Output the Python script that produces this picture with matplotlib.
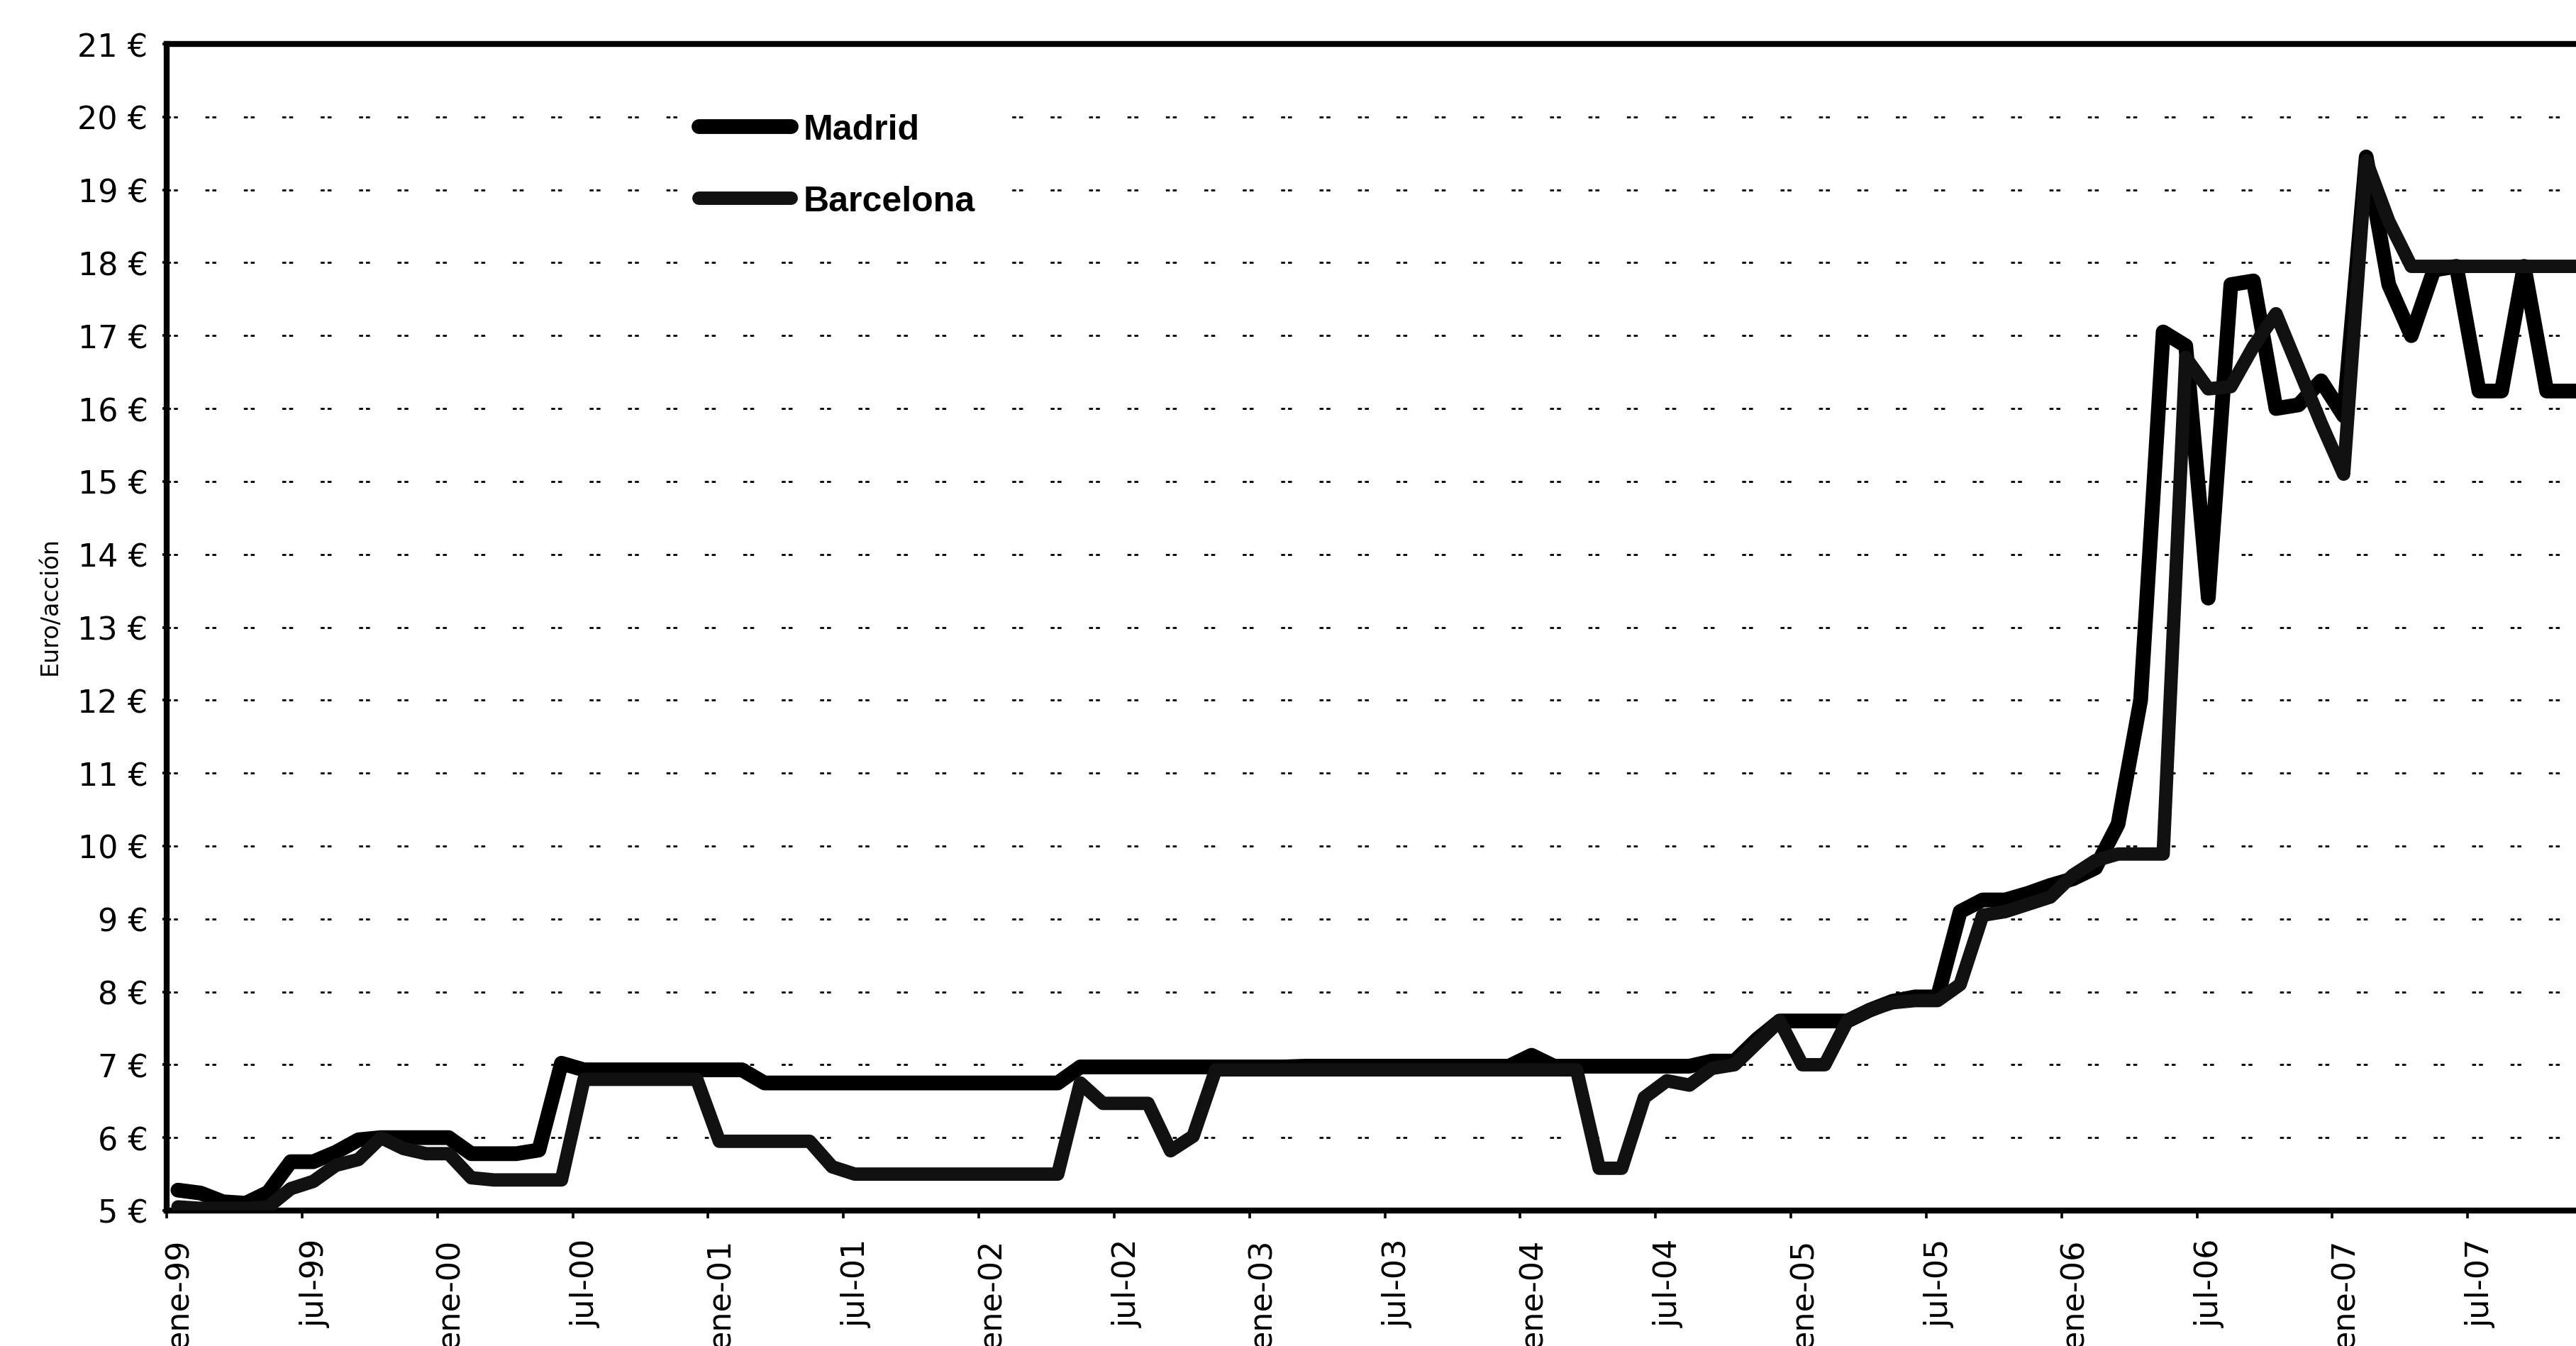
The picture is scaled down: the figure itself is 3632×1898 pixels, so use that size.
import matplotlib
matplotlib.use("Agg")
import numpy as np
from matplotlib import pyplot as plt
from matplotlib import transforms

# Monthly share price (euro/share), ene-99 .. dic-07
MADRID = [
    5.28, 5.24, 5.12, 5.10, 5.25, 5.67, 5.67, 5.80, 5.97, 6.00,
    6.00, 6.00, 6.00, 5.78, 5.78, 5.78, 5.83, 7.02, 6.93, 6.93,
    6.93, 6.93, 6.93, 6.93, 6.93, 6.93, 6.75, 6.75, 6.75, 6.75,
    6.75, 6.75, 6.75, 6.75, 6.75, 6.75, 6.75, 6.75, 6.75, 6.75,
    6.97, 6.97, 6.97, 6.97, 6.97, 6.97, 6.97, 6.97, 6.97, 6.97,
    6.98, 6.98, 6.98, 6.98, 6.98, 6.98, 6.98, 6.98, 6.98, 6.98,
    7.13, 6.98, 6.98, 6.98, 6.98, 6.98, 6.98, 6.98, 7.05, 7.05,
    7.35, 7.60, 7.60, 7.60, 7.60, 7.75, 7.87, 7.93, 7.93, 9.10,
    9.26, 9.26, 9.35, 9.46, 9.55, 9.70, 10.30, 12.00, 17.05, 16.86,
    13.40, 17.70, 17.75, 16.00, 16.05, 16.38, 15.90, 19.45, 17.70, 17.00,
    17.90, 17.95, 16.24, 16.24, 17.95, 16.24, 16.24, 16.24,
]
BARCELONA = [
    5.05, 5.03, 5.03, 5.03, 5.05, 5.30, 5.40, 5.62, 5.70, 6.00,
    5.85, 5.78, 5.78, 5.45, 5.42, 5.42, 5.42, 5.42, 6.80, 6.80,
    6.80, 6.80, 6.80, 6.80, 5.95, 5.95, 5.95, 5.95, 5.95, 5.60,
    5.50, 5.50, 5.50, 5.50, 5.50, 5.50, 5.50, 5.50, 5.50, 5.50,
    6.75, 6.47, 6.47, 6.47, 5.82, 6.02, 6.93, 6.93, 6.93, 6.93,
    6.93, 6.93, 6.93, 6.93, 6.93, 6.93, 6.93, 6.93, 6.93, 6.93,
    6.93, 6.93, 6.93, 5.58, 5.58, 6.55, 6.78, 6.72, 6.95, 7.00,
    7.30, 7.60, 7.00, 7.00, 7.60, 7.75, 7.85, 7.88, 7.88, 8.10,
    9.05, 9.10, 9.20, 9.30, 9.60, 9.80, 9.89, 9.89, 9.89, 16.70,
    16.27, 16.30, 16.85, 17.30, 16.55, 15.80, 15.10, 19.40, 18.57, 17.95,
    17.95, 17.95, 17.95, 17.95, 17.95, 17.95, 17.95, 17.95,
]
TICK_LABELS = [
    "ene-99", "jul-99", "ene-00", "jul-00", "ene-01", "jul-01",
    "ene-02", "jul-02", "ene-03", "jul-03", "ene-04", "jul-04",
    "ene-05", "jul-05", "ene-06", "jul-06", "ene-07", "jul-07",
]
Y_TICKS = list(range(5, 22))

plt.rcParams["lines.scale_dashes"] = False

fig = plt.figure(figsize=(18.16, 9.495), dpi=200)
# plot area runs off the right edge of the scan
ax = fig.add_axes([235 / 3632, 1 - 1708 / 1899, 1 - 235 / 3632, (1708 - 63) / 1899])

# each monthly value sits mid-month
x = np.arange(len(MADRID)) + 0.5
ax.plot(x, MADRID, color="black", lw=7.5, solid_capstyle="round",
        solid_joinstyle="round", label="Madrid", zorder=3)
ax.plot(x, BARCELONA, color="#111111", lw=6.8, solid_capstyle="round",
        solid_joinstyle="round", label="Barcelona", zorder=3)

ax.set_xlim(0, 106.8)
ax.set_ylim(5, 21)

ax.set_yticks(Y_TICKS)
ax.set_yticklabels([f"{v} €" for v in Y_TICKS], fontsize=16, family="DejaVu Sans")
ax.set_xticks(np.arange(len(TICK_LABELS)) * 6)
ax.set_xticklabels(TICK_LABELS, rotation=90, fontsize=16, family="DejaVu Sans",
                   va="top", ha="center")

ax.tick_params(axis="x", direction="out", length=4, width=1.3, pad=10)
ax.tick_params(axis="y", direction="out", length=2, width=1.3, pad=7.5)

# shift rotated labels slightly right of their tick
offset = transforms.ScaledTranslation(18 / 200, 0, fig.dpi_scale_trans)
for lab in ax.get_xticklabels():
    lab.set_transform(lab.get_transform() + offset)

ax.yaxis.grid(True, color="black", lw=1.0, linestyle=(0, (2, 1.5, 2, 14)))
ax.set_axisbelow(True)

for side in ["left", "top", "bottom"]:
    ax.spines[side].set_linewidth(3)
    ax.spines[side].set_color("black")
ax.spines["right"].set_visible(False)

fig.text(70 / 3632, 1 - 855 / 1899, "Euro/acción", rotation=90, fontsize=12,
         ha="center", va="center", family="DejaVu Sans")

# legend box is opaque so the grid stops around it, as in the scan
leg = ax.legend(loc="center left", bbox_to_anchor=(0.215, 0.896), frameon=True,
                fancybox=False, facecolor="white", edgecolor="none", framealpha=1,
                borderpad=0.4, borderaxespad=0, handlelength=2.6, handletextpad=0.35,
                labelspacing=1.1,
                prop={"family": "Liberation Sans", "weight": "bold", "size": 18})

fig.savefig("out.png", dpi=200)
